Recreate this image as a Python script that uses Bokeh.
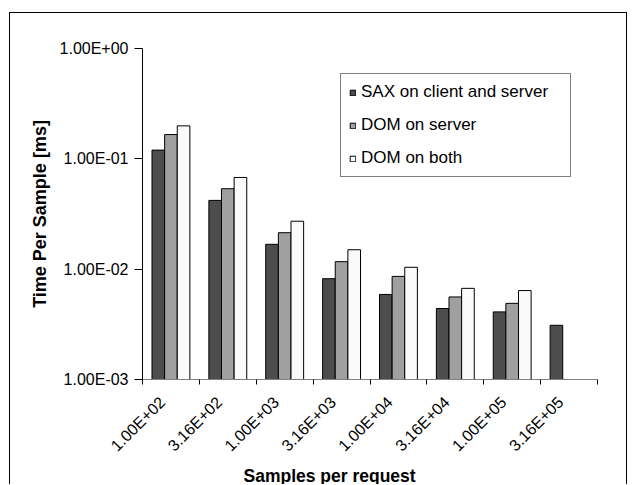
import numpy as np
from bokeh.plotting import figure
from bokeh.models import (Range1d, FixedTicker, Legend, LegendItem, Title, ColumnDataSource)
from bokeh.embed import file_html
from bokeh.resources import INLINE

# ---- data ----
categories = ["1.00E+02", "3.16E+02", "1.00E+03", "3.16E+03",
              "1.00E+04", "3.16E+04", "1.00E+05", "3.16E+05"]
sax_client_server = [0.120, 0.042, 0.0168, 0.0082, 0.0059, 0.0044, 0.0041, 0.0031]
dom_server = [0.166, 0.0536, 0.0214, 0.0117, 0.0086, 0.0056, 0.0049, None]
dom_both = [0.199, 0.0678, 0.0272, 0.0150, 0.0104, 0.0067, 0.0064, None]
series_names = ["SAX on client and server", "DOM on server", "DOM on both"]
series_colors = ["#4d4d4d", "#a0a0a0", "#fafafa"]
y_ticks = [0.001, 0.01, 0.1, 1.0]
y_tick_labels = ["1.00E-03", "1.00E-02", "1.00E-01", "1.00E+00"]

FONT = "Liberation Sans"

p = figure(width=618, height=472, output_backend="svg", toolbar_location=None,
           x_range=Range1d(0, len(categories)), y_range=Range1d(0.001, 1.0),
           y_axis_type="log",
           min_border_left=132, min_border_right=31, min_border_top=35, min_border_bottom=105)
p.margin = (12, 0, 0, 9)
p.styles = {"border-top": "1px solid #000", "border-left": "1px solid #000",
            "border-right": "1px solid #000"}
p.outline_line_color = None
p.xgrid.visible = False
p.ygrid.visible = False
p.background_fill_color = "white"
p.border_fill_color = "white"

centers = np.arange(len(categories)) + 0.5
bw = 0.222
renderers = []
for k, (vals, col) in enumerate(zip([sax_client_server, dom_server, dom_both], series_colors)):
    v = np.array([np.nan if x is None else x for x in vals], dtype=float)
    mask = ~np.isnan(v)
    src = ColumnDataSource(dict(x=(centers + (k - 1) * bw)[mask], top=v[mask],
                                bottom=np.full(mask.sum(), 0.001)))
    r = p.vbar(x="x", top="top", bottom="bottom", width=bw, source=src,
               fill_color=col, line_color="black", line_width=1)
    renderers.append(r)

# x axis: boundary ticks as minor ticks, category labels as (invisible) major ticks
label_pos = centers - 0.15
xa = p.xaxis[0]
xa.ticker = FixedTicker(ticks=list(label_pos), minor_ticks=list(range(len(categories) + 1)))
xa.major_label_overrides = {float(c): lab for c, lab in zip(label_pos, categories)}
xa.major_tick_line_color = None
xa.major_tick_out = 0
xa.major_tick_in = 0
xa.minor_tick_out = 5
xa.minor_tick_in = 0
xa.minor_tick_line_color = "black"
xa.axis_line_color = "#808080"
xa.major_label_orientation = np.pi / 4
xa.major_label_standoff = 15
xa.major_label_text_font = FONT
xa.major_label_text_font_size = "16px"
xa.major_label_text_color = "black"

# y axis
ya = p.yaxis[0]
ya.ticker = FixedTicker(ticks=y_ticks, minor_ticks=[])
ya.major_label_overrides = {t: lab for t, lab in zip(y_ticks, y_tick_labels)}
ya.major_tick_out = 8
ya.major_tick_in = 0
ya.minor_tick_line_color = None
ya.axis_line_color = "black"
ya.major_tick_line_color = "black"
ya.major_label_standoff = 6
ya.major_label_text_font = FONT
ya.major_label_text_font_size = "16px"
ya.major_label_text_color = "black"
ya.axis_label = "Time Per Sample [ms]"
ya.axis_label_text_font = FONT
ya.axis_label_text_font_size = "18px"
ya.axis_label_text_font_style = "bold"
ya.axis_label_text_color = "black"
ya.axis_label_standoff = 7

xt = Title(text="Samples per request", align="left", offset=101,
           text_font=FONT, text_font_size="17.5px", text_font_style="bold",
           text_color="black", standoff=0)
p.add_layout(xt, "below")

legend = Legend(items=[LegendItem(label=n, renderers=[r]) for n, r in zip(series_names, renderers)],
                location=(198, 202), margin=0, padding=8, spacing=13,
                label_height=18, glyph_height=7, glyph_width=7, label_standoff=5,
                label_width=201,
                label_text_font=FONT, label_text_font_size="17px", label_text_color="black",
                border_line_color="black", border_line_width=1,
                background_fill_color="white", background_fill_alpha=1.0)
p.add_layout(legend, "center")

open("out.html", "w").write(file_html(p, INLINE))
